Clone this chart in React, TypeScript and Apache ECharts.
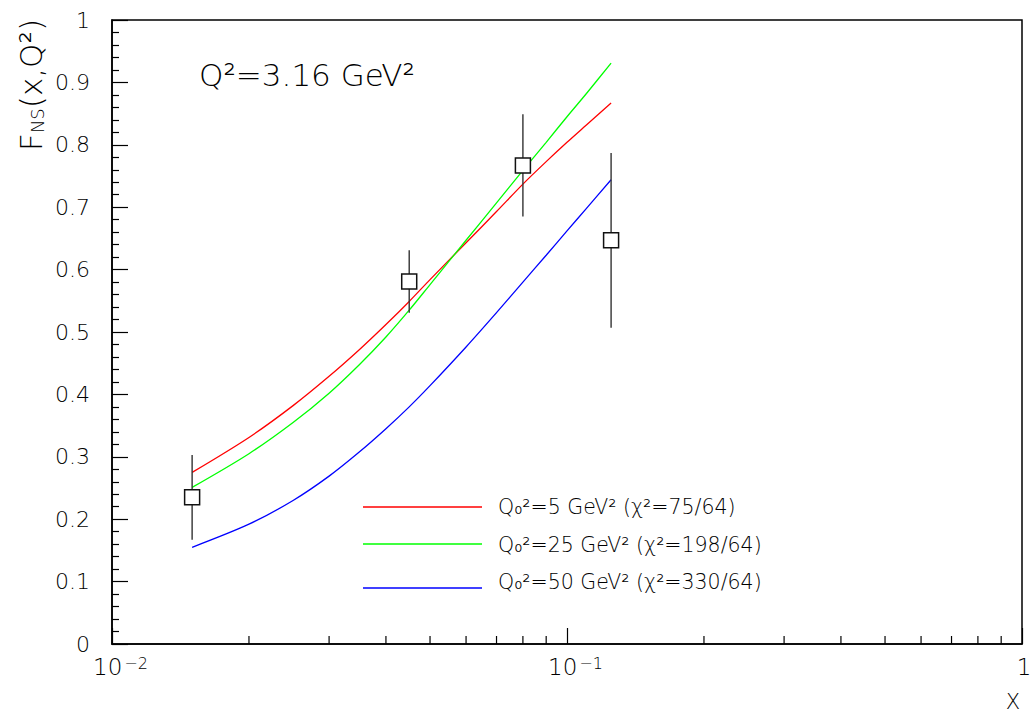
import React, { useEffect, useRef } from "react";
import * as echarts from "echarts";

// x positions of the theory curves
const xValues = [0.015, 0.02, 0.025, 0.03, 0.035, 0.04, 0.045, 0.05, 0.06, 0.07, 0.08, 0.09, 0.1, 0.11, 0.125];
// F_NS curves for the three starting scales
const curveQ5 = [0.275, 0.331, 0.382, 0.429, 0.472, 0.512, 0.549, 0.584, 0.643, 0.693, 0.737, 0.773, 0.804, 0.831, 0.867];
const curveQ25 = [0.251, 0.305, 0.355, 0.402, 0.448, 0.492, 0.535, 0.576, 0.647, 0.707, 0.759, 0.804, 0.845, 0.881, 0.931];
const curveQ50 = [0.155, 0.192, 0.230, 0.269, 0.308, 0.345, 0.380, 0.414, 0.476, 0.531, 0.580, 0.623, 0.662, 0.697, 0.744];
// measured points with errors
const pointX = [0.015, 0.045, 0.08, 0.125];
const pointY = [0.235, 0.581, 0.767, 0.647];
const pointErr = [0.068, 0.05, 0.082, 0.14];
// minor tick positions on the log x axis
const minorXTicks = [0.02, 0.03, 0.04, 0.05, 0.06, 0.07, 0.08, 0.09, 0.2, 0.3, 0.4, 0.5, 0.6, 0.7, 0.8, 0.9];
// legend
const legendLabels = ["Q₀²=5 GeV² (χ²=75/64)", "Q₀²=25 GeV² (χ²=198/64)", "Q₀²=50 GeV² (χ²=330/64)"];
const curveColors = ["#ff0000", "#00ff00", "#0000ff"];
const titleText = "Q²=3.16 GeV²";

const FONT = "'DejaVu Sans', Roboto, sans-serif";
const FW = 200;

export default function App() {
  const ref = useRef<HTMLDivElement>(null);
  useEffect(() => {
    if (!ref.current) return;
    const chart = echarts.init(ref.current, undefined, { renderer: "svg" });
    const curves = [curveQ5, curveQ25, curveQ50];
    const legendLineY = [507, 544, 588];
    const legendTextY = [507, 545, 582];
    const option: any = {
      animation: false,
      backgroundColor: "#ffffff",
      textStyle: { fontFamily: FONT, fontWeight: FW },
      grid: {
        left: 112, right: 8, top: 20, bottom: 69,
        containLabel: false,
        outerBoundsMode: "none",
        show: true, borderColor: "#000", borderWidth: 1.5, backgroundColor: "transparent",
      },
      xAxis: {
        type: "log",
        logBase: 10,
        min: 0.01,
        max: 1,
        axisLine: { show: true, lineStyle: { color: "#000", width: 1.5 } },
        axisTick: { show: true, inside: true, length: 16, lineStyle: { color: "#000", width: 1.2 } },
        splitLine: { show: false },
        axisLabel: {
          margin: 11,
          color: "#000",
          formatter: (v: number) => {
            if (Math.abs(v - 1) < 1e-9) return "{one|1}";
            const e = Math.round(Math.log10(v));
            return "{b|10}{s|−" + String(-e) + "}";
          },
          rich: {
            one: { fontFamily: FONT, fontWeight: FW, fontSize: 23, color: "#000", verticalAlign: "bottom", padding: [0, 0, 0, 4] },
            b: { fontFamily: FONT, fontWeight: FW, fontSize: 23, color: "#000", verticalAlign: "bottom", padding: [0, 0, 0, 17] },
            s: { fontFamily: FONT, fontWeight: FW, fontSize: 16, color: "#000", verticalAlign: "top", padding: [0, 0, 0, 2] },
          },
        },
      },
      yAxis: {
        type: "value",
        min: 0,
        max: 1,
        interval: 0.1,
        axisLine: { show: true, lineStyle: { color: "#000", width: 1.5 } },
        axisTick: { show: true, inside: true, length: 16, lineStyle: { color: "#000", width: 1.2 } },
        minorTick: { show: true, splitNumber: 5, length: 7, lineStyle: { color: "#000", width: 1.2 } },
        splitLine: { show: false },
        axisLabel: {
          margin: 22,
          color: "#000",
          fontSize: 22,
          fontFamily: FONT,
          fontWeight: FW,
          formatter: (v: number) => String(Math.round(v * 10) / 10),
        },
      },
      series: [
        ...curves.map((c, i) => ({
          type: "line",
          data: xValues.map((x, j) => [x, c[j]]),
          showSymbol: false,
          smooth: 0.3,
          lineStyle: { color: curveColors[i], width: 1.3 },
          z: 3,
        })),
        {
          type: "custom",
          data: minorXTicks.map((x) => [x, 0]),
          clip: false,
          z: 5,
          renderItem: (_p: any, api: any) => {
            const p = api.coord([api.value(0), 0]);
            return {
              type: "line",
              shape: { x1: p[0], y1: p[1], x2: p[0], y2: p[1] - 8 },
              style: { stroke: "#000", lineWidth: 1.2 },
            };
          },
        },
        {
          type: "custom",
          data: pointX.map((x, i) => [x, pointY[i], pointErr[i]]),
          z: 6,
          renderItem: (_p: any, api: any) => {
            const x = api.value(0);
            const y = api.value(1);
            const e = api.value(2);
            const top = api.coord([x, y + e]);
            const bot = api.coord([x, y - e]);
            const c = api.coord([x, y]);
            const s = 15;
            return {
              type: "group",
              children: [
                { type: "line", shape: { x1: top[0], y1: top[1], x2: bot[0], y2: bot[1] }, style: { stroke: "#333", lineWidth: 1.4 } },
                { type: "rect", shape: { x: c[0] - s / 2, y: c[1] - s / 2, width: s, height: s }, style: { fill: "#fff", stroke: "#111", lineWidth: 1.5 } },
              ],
            };
          },
        },
      ],
      graphic: [
        {
          type: "text",
          x: 199,
          y: 75,
          style: { text: titleText, fontFamily: FONT, fontWeight: FW, fontSize: 31, fill: "#000", verticalAlign: "middle", align: "left" },
        },
        {
          type: "text",
          x: 31,
          y: 19,
          rotation: Math.PI / 2,
          style: {
            text: "{f|F}{s|NS}{f|(x,Q²)}",
            align: "right",
            verticalAlign: "middle",
            rich: {
              f: { fontFamily: FONT, fontWeight: FW, fontSize: 31, fill: "#000", verticalAlign: "middle" },
              s: { fontFamily: FONT, fontWeight: FW, fontSize: 18, fill: "#000", verticalAlign: "bottom" },
            },
          },
        },
        {
          type: "text",
          x: 1013,
          y: 702,
          style: { text: "X", fontFamily: FONT, fontWeight: FW, fontSize: 21, fill: "#000", align: "center", verticalAlign: "middle" },
        },
        ...legendLabels.flatMap((t, i) => [
          {
            type: "line",
            shape: { x1: 363, y1: legendLineY[i], x2: 482, y2: legendLineY[i] },
            style: { stroke: curveColors[i], lineWidth: 1.3 },
          },
          {
            type: "text",
            x: 498,
            y: legendTextY[i],
            style: { text: t, fontFamily: FONT, fontWeight: FW, fontSize: 20.5, fill: "#000", verticalAlign: "middle", align: "left" },
          },
        ]),
      ],
    };
    chart.setOption(option);
    return () => chart.dispose();
  }, []);
  return <div ref={ref} style={{ position: "absolute", left: 0, top: 0, width: 1030, height: 713 }} />;
}
